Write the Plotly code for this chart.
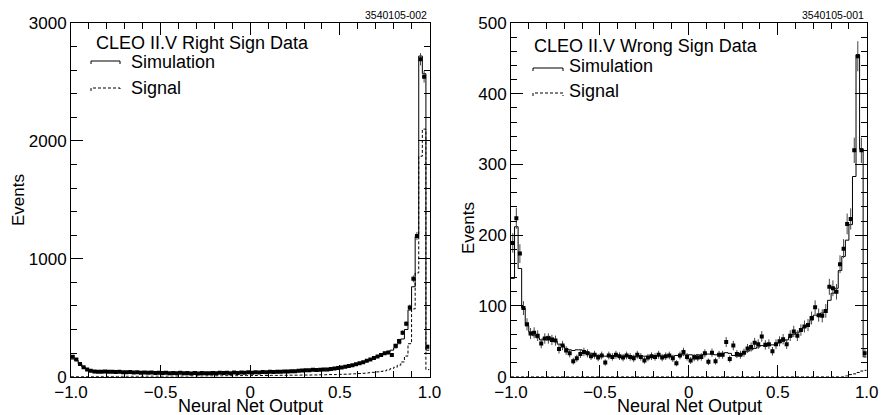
import numpy as np
import plotly.graph_objects as go

W, H = 881, 415
FONT = "Liberation Sans, Arial, Helvetica, sans-serif"

n_bins = 100
x_min, x_max = -1.0, 1.0

# ---- Right sign (left panel) : bin centres -0.99 ... 0.99 ----
rs_data = [
    170, 145, 108, 80, 62, 50, 45, 42, 41, 44,
    41, 43, 40, 42, 38, 37, 39, 35, 37, 34,
    36, 33, 35, 32, 34, 31, 33, 30, 32, 29,
    33, 30, 31, 28, 32, 27, 31, 29, 30, 32,
    29, 33, 31, 34, 30, 35, 32, 36, 33, 37,
    34, 38, 36, 40, 37, 41, 39, 43, 41, 44,
    44, 47, 46, 50, 52, 55, 54, 58, 57, 60,
    62, 61, 66, 70, 74, 78, 84, 90, 97, 105,
    115, 122, 135, 145, 158, 172, 185, 198, 205, 185,
    262, 303, 373, 450, 587, 830, 1193, 2692, 2545, 255,
]
rs_sim = [
    150, 138, 112, 84, 64, 52, 46, 43, 42, 42,
    41, 41, 40, 40, 39, 38, 38, 37, 36, 35,
    35, 34, 34, 33, 33, 32, 32, 31, 31, 31,
    31, 30, 30, 30, 30, 30, 30, 30, 30, 31,
    31, 31, 32, 32, 33, 33, 34, 34, 35, 35,
    36, 36, 37, 38, 38, 39, 40, 41, 42, 43,
    44, 45, 46, 48, 50, 52, 54, 56, 58, 60,
    62, 64, 67, 70, 74, 78, 83, 89, 96, 104,
    113, 122, 133, 144, 156, 170, 183, 196, 210, 225,
    245, 280, 320, 400, 566, 763, 1188, 2720, 2570, 225,
]
rs_signal = [
    1, 1, 1, 1, 1, 1, 2, 2, 2, 2,
    2, 2, 2, 2, 3, 3, 3, 3, 3, 3,
    3, 4, 4, 4, 4, 4, 4, 5, 5, 5,
    5, 5, 5, 6, 6, 6, 6, 6, 7, 7,
    7, 7, 7, 8, 8, 8, 8, 9, 9, 9,
    9, 10, 10, 10, 10, 11, 11, 11, 12, 12,
    12, 13, 13, 13, 14, 14, 14, 15, 15, 16,
    16, 17, 18, 18, 19, 20, 21, 22, 24, 25,
    27, 29, 31, 34, 37, 41, 45, 50, 58, 68,
    80, 98, 125, 175, 280, 575, 880, 1870, 2100, 60,
]

# ---- Wrong sign (right panel) ----
ws_data = [
    189, 224, 174, 97, 74, 61, 62, 58, 47, 54,
    54, 52, 51, 39, 44, 37, 33, 22, 26, 32,
    35, 33, 29, 31, 27, 30, 20, 30, 28, 31,
    29, 27, 30, 28, 26, 31, 28, 23, 27, 29,
    28, 31, 27, 29, 30, 26, 19, 30, 35, 28,
    23, 27, 27, 28, 33, 21, 34, 22, 31, 31,
    49, 25, 44, 32, 31, 34, 40, 42, 48, 46,
    57, 45, 46, 36, 46, 50, 53, 46, 58, 64,
    58, 66, 71, 73, 83, 98, 87, 86, 93, 127,
    125, 120, 159, 181, 216, 223, 320, 453, 320, 33,
]
ws_sim = [
    139, 212, 153, 97, 72, 63, 58, 55, 52, 55,
    57, 55, 50, 46, 44, 40, 38, 37, 38, 38,
    37, 35, 33, 31, 30, 30, 29, 30, 30, 29,
    29, 29, 30, 29, 29, 28, 29, 29, 28, 29,
    29, 30, 29, 30, 30, 29, 30, 30, 31, 31,
    31, 30, 31, 31, 32, 32, 32, 31, 32, 33,
    34, 33, 30, 29, 30, 33, 36, 38, 40, 42,
    44, 43, 44, 45, 46, 48, 50, 52, 56, 60,
    62, 65, 70, 74, 80, 87, 86, 90, 95, 108,
    118, 125, 150, 170, 193, 215, 283, 455, 322, 28,
]
ws_signal = [
    0, 0, 0, 0, 0, 0, 0, 0, 0, 0,
    0, 0, 0, 0, 0, 0, 0, 0, 0, 0,
    0, 0, 0, 0, 0, 0, 0, 0, 0, 0,
    0, 0, 0, 0, 0, 0, 0, 0, 0, 0,
    0, 0, 0, 0, 0, 0, 0, 0, 0, 0,
    0, 0, 0, 0, 0, 0, 0, 0, 0, 0,
    0, 0, 0, 0, 0, 0, 0, 0, 0, 0,
    0, 0, 0, 0, 0, 0, 0, 0, 0, 0,
    0, 0, 0, 0, 0, 0, 0, 0, 0, 0,
    0, 0, 0, 0, 1, 3, 4, 6, 8, 9,
]

x_tickvals = [-1.0, -0.5, 0.0, 0.5, 1.0]
x_ticktext = ["\u22121.0", "\u22120.5", "0", "0.5", "1.0"]
left_y_tickvals = [0, 1000, 2000, 3000]
right_y_tickvals = [0, 100, 200, 300, 400, 500]

left_titles = ["CLEO II.V Right Sign Data", "Simulation", "Signal"]
right_titles = ["CLEO II.V Wrong Sign Data", "Simulation", "Signal"]
plot_ids = ["3540105-002", "3540105-001"]
x_title = "Neural Net Output"
y_title = "Events"

edges = np.linspace(x_min, x_max, n_bins + 1)
centers = 0.5 * (edges[:-1] + edges[1:])

fig = go.Figure()


def add_panel(data, sim, sig, xa, ya):
    fig.add_trace(go.Scatter(
        x=edges, y=list(sim) + [sim[-1]], mode="lines",
        line=dict(color="black", width=1, shape="hv"),
        xaxis=xa, yaxis=ya, hoverinfo="skip"))
    fig.add_trace(go.Scatter(
        x=edges, y=list(sig) + [sig[-1]], mode="lines",
        line=dict(color="black", width=1, shape="hv", dash="3px,2px"),
        xaxis=xa, yaxis=ya, hoverinfo="skip"))
    d = np.array(data, dtype=float)
    fig.add_trace(go.Scatter(
        x=centers, y=d, mode="markers",
        marker=dict(symbol="square", size=4, color="black"),
        error_y=dict(type="data", array=np.sqrt(d), thickness=1, width=0,
                     color="#444"),
        xaxis=xa, yaxis=ya))


add_panel(rs_data, rs_sim, rs_signal, "x", "y")
add_panel(ws_data, ws_sim, ws_signal, "x2", "y2")


def px(x):
    return x / W


def py(y):
    return 1 - y / H


ydom = [py(376.7), py(23)]
tickfont = dict(family=FONT, size=17, color="black")


def xaxis_style(domain, anchor):
    return dict(
        domain=domain, anchor=anchor, range=[x_min, x_max], automargin=False,
        tickvals=x_tickvals, ticktext=x_ticktext,
        ticks="inside", ticklen=12, tickwidth=1, tickcolor="black",
        showline=True, linecolor="black", linewidth=1, mirror="ticks",
        showgrid=False, zeroline=False, tickfont=tickfont,
        minor=dict(ticks="inside", ticklen=6, tickwidth=1, tickcolor="black",
                   dtick=0.1, tick0=0, showgrid=False),
    )


def yaxis_style(anchor, rng, tv, minor_dt):
    return dict(
        domain=ydom, anchor=anchor, range=rng, tickvals=tv, automargin=False,
        ticks="inside", ticklen=12, tickwidth=1, tickcolor="black",
        showline=True, linecolor="black", linewidth=1, mirror="ticks",
        showgrid=False, zeroline=False, tickfont=tickfont,
        minor=dict(ticks="inside", ticklen=6, tickwidth=1, tickcolor="black",
                   dtick=minor_dt, tick0=0, showgrid=False),
    )


annotations = []


def text(x, y, s, size, xanchor="left", angle=0):
    annotations.append(dict(
        x=px(x), y=py(y), xref="paper", yref="paper", text=s,
        showarrow=False, xanchor=xanchor, yanchor="middle", textangle=angle,
        font=dict(family=FONT, size=size, color="black"), borderpad=0))


# left panel legend
text(95, 43, left_titles[0], 18)
text(130, 62, left_titles[1], 18)
text(130, 88, left_titles[2], 18)
# right panel legend
text(533, 46, right_titles[0], 18)
text(568, 66, right_titles[1], 18)
text(568, 91, right_titles[2], 18)
# ids
text(428, 15, plot_ids[0], 10.5, xanchor="right")
text(865, 15, plot_ids[1], 10.5, xanchor="right")
# axis titles
text(250, 406, x_title, 18, xanchor="center")
text(689, 406, x_title, 18, xanchor="center")
text(18, 200, y_title, 17, xanchor="center", angle=-90)
text(468, 228, y_title, 17, xanchor="center", angle=-90)

shapes = []


def legend_line(x0, x1, y, dash):
    shapes.append(dict(
        type="path", xref="paper", yref="paper",
        path=f"M {px(x0)},{py(y + 3)} L {px(x0)},{py(y)} L {px(x1)},{py(y)} L {px(x1)},{py(y + 3)}",
        line=dict(color="black", width=1, dash=dash)))


legend_line(91, 120, 61, "solid")
legend_line(91, 120, 88, "3px,2px")
legend_line(533, 563, 68, "solid")
legend_line(533, 563, 93, "3px,2px")

fig.update_layout(
    width=W, height=H, margin=dict(l=0, r=0, t=0, b=0),
    paper_bgcolor="white", plot_bgcolor="white", showlegend=False,
    xaxis=xaxis_style([px(71), px(429.5)], "y"),
    yaxis=yaxis_style("x", [0, 3000], left_y_tickvals, 200),
    xaxis2=xaxis_style([px(511), px(866.7)], "y2"),
    yaxis2=yaxis_style("x2", [0, 500], right_y_tickvals, 20),
    annotations=annotations, shapes=shapes,
)

fig.write_html(
    "out.html",
    config={"displayModeBar": False},
    post_script="document.body.style.margin='0';document.body.style.overflow='hidden';",
)
